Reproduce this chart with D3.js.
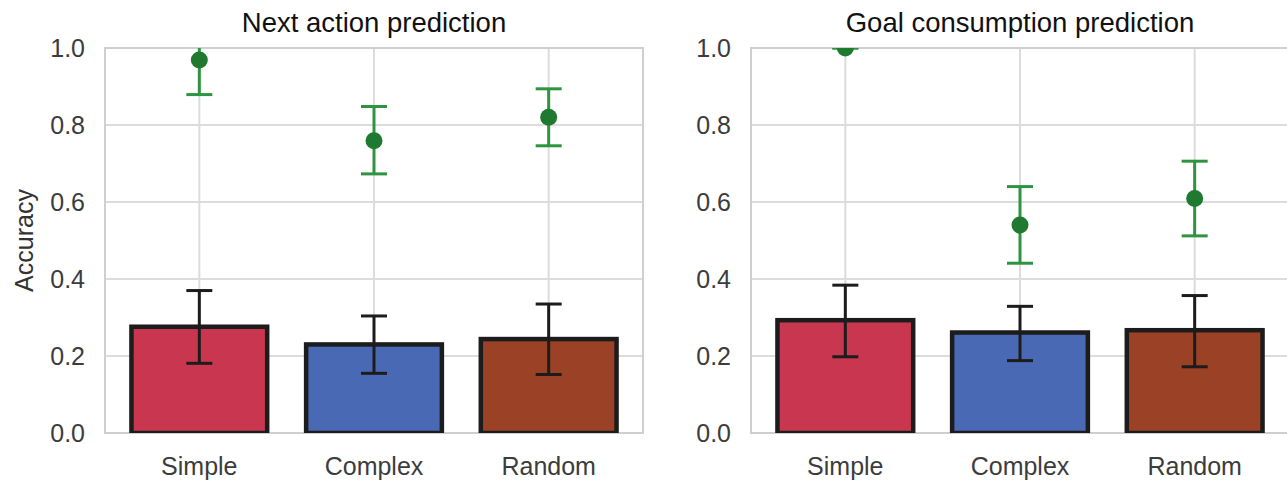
<!DOCTYPE html>
<head>
  <meta charset="utf-8">
  <title>Accuracy bars</title>
  <style>
    body { margin: 0; background: #fff; }
    text { font-family: "Liberation Sans", Arial, sans-serif; }
  </style>
</head>
<body>
<div id="chart"></div>
<script src="https://cdn.jsdelivr.net/npm/d3@7/dist/d3.min.js"></script>
<script>

var categories = ["Simple", "Complex", "Random"];
var barColors = ["#c8374f", "#4a69b5", "#9b4126"];
var yTicks = [0, 0.2, 0.4, 0.6, 0.8, 1.0];

// next action prediction
var nextBar = [0.276, 0.230, 0.244];
var nextBarLo = [0.181, 0.155, 0.152];
var nextBarHi = [0.370, 0.304, 0.335];
var nextDot = [0.969, 0.759, 0.820];
var nextDotLo = [0.879, 0.673, 0.746];
var nextDotHi = [1.03, 0.848, 0.894];

// goal consumption prediction
var goalBar = [0.293, 0.261, 0.267];
var goalBarLo = [0.198, 0.188, 0.172];
var goalBarHi = [0.384, 0.329, 0.357];
var goalDot = [1.0, 0.540, 0.609];
var goalDotLo = [1.0, 0.441, 0.512];
var goalDotHi = [1.0, 0.640, 0.706];

var width = 1287, height = 482;

var svg = d3.select("#chart").append("svg")
    .attr("width", width)
    .attr("height", height);

var y = d3.scaleLinear().domain([0, 1]).range([433, 48]);

function panel(id, x0, x1, title, bar, barLo, barHi, dot, dotLo, dotHi, showYLabel) {
  var x = d3.scaleLinear().domain([-0.54, 2.54]).range([x0, x1]);
  var unit = x(1) - x(0);
  var g = svg.append("g");

  g.append("clipPath").attr("id", "clip" + id)
    .append("rect")
    .attr("x", x0).attr("y", y(1))
    .attr("width", x1 - x0).attr("height", y(0) - y(1));

  // grid
  g.selectAll(".hgrid").data(yTicks).enter().append("line")
    .attr("x1", x0).attr("x2", x1)
    .attr("y1", function(d) { return y(d); })
    .attr("y2", function(d) { return y(d); })
    .attr("stroke", "#dcdcdc").attr("stroke-width", 2);
  g.selectAll(".vgrid").data(categories).enter().append("line")
    .attr("x1", function(d, i) { return x(i); })
    .attr("x2", function(d, i) { return x(i); })
    .attr("y1", y(0)).attr("y2", y(1))
    .attr("stroke", "#dcdcdc").attr("stroke-width", 2);

  // frame
  g.append("rect")
    .attr("x", x0).attr("y", y(1))
    .attr("width", x1 - x0).attr("height", y(0) - y(1))
    .attr("fill", "none").attr("stroke", "#cfcfcf").attr("stroke-width", 2);

  var plot = g.append("g").attr("clip-path", "url(#clip" + id + ")");

  // bars
  plot.selectAll(".bar").data(bar).enter().append("rect")
    .attr("x", function(d, i) { return x(i - 0.4) + 2; })
    .attr("width", unit * 0.8 - 4)
    .attr("y", function(d) { return y(d); })
    .attr("height", function(d) { return y(0) - y(d); })
    .attr("fill", function(d, i) { return barColors[i]; })
    .attr("stroke", "#1c1c1c").attr("stroke-width", 4.5);

  function errbars(lo, hi, color, sw, cap) {
    var eg = plot.append("g").attr("stroke", color).attr("stroke-width", sw);
    categories.forEach(function(c, i) {
      var cx = x(i);
      eg.append("line").attr("x1", cx).attr("x2", cx)
        .attr("y1", y(lo[i])).attr("y2", y(hi[i]));
      [lo[i], hi[i]].forEach(function(v) {
        eg.append("line").attr("x1", cx - cap).attr("x2", cx + cap)
          .attr("y1", y(v)).attr("y2", y(v));
      });
    });
  }

  errbars(barLo, barHi, "#1c1c1c", 3, 13);
  errbars(dotLo, dotHi, "#2e9440", 3, 13);

  plot.selectAll(".dot").data(dot).enter().append("circle")
    .attr("cx", function(d, i) { return x(i); })
    .attr("cy", function(d) { return y(d); })
    .attr("r", 8.5)
    .attr("fill", "#1f7a2f");

  // y tick labels
  g.selectAll(".ytick").data(yTicks).enter().append("text")
    .attr("x", x0 - 20).attr("y", function(d) { return y(d); })
    .attr("dy", "0.36em")
    .attr("text-anchor", "end")
    .style("font-size", "25px")
    .style("fill", "#3c3c3c")
    .text(function(d) { return d3.format(".1f")(d); });

  // x tick labels
  g.selectAll(".xtick").data(categories).enter().append("text")
    .attr("x", function(d, i) { return x(i); })
    .attr("y", 475)
    .attr("text-anchor", "middle")
    .style("font-size", "25px")
    .style("fill", "#3c3c3c")
    .text(function(d) { return d; });

  g.append("text")
    .attr("x", (x0 + x1) / 2).attr("y", 32)
    .attr("text-anchor", "middle")
    .style("font-size", "27.5px")
    .style("fill", "#111")
    .text(title);

  if (showYLabel) {
    g.append("text")
      .attr("transform", "translate(33," + y(0.5) + ") rotate(-90)")
      .attr("text-anchor", "middle")
      .style("font-size", "25px")
      .style("fill", "#333")
      .text("Accuracy");
  }
}

panel("a", 105, 643, "Next action prediction",
  nextBar, nextBarLo, nextBarHi, nextDot, nextDotLo, nextDotHi, true);
panel("b", 751, 1289, "Goal consumption prediction",
  goalBar, goalBarLo, goalBarHi, goalDot, goalDotLo, goalDotHi, false);

</script>
</body>
</html>
